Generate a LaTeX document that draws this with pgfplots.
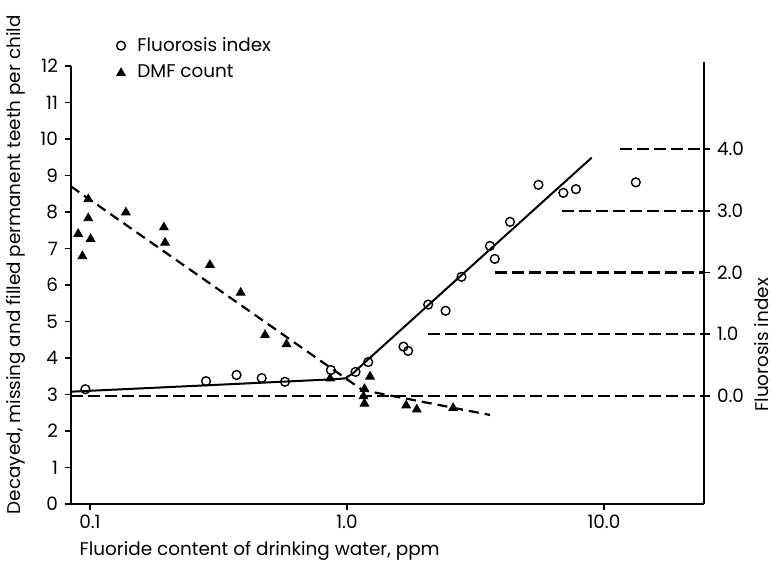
\documentclass[border=0pt]{standalone}
\usepackage{pgfplots}
\pgfplotsset{compat=1.18}
\usepackage{fontspec}
\setmainfont{Poppins}

\begin{document}
\begin{tikzpicture}
\useasboundingbox (0,0) rectangle (386.5pt,281.5pt);

% ---------- left axis: DMF count ----------
\begin{axis}[
  scale only axis,
  width=316.5pt, height=219pt,
  at={(35.5pt,29.5pt)}, anchor=south west,
  xmode=log, xmin=0.0844, xmax=24.5,
  ymin=0, ymax=12,
  axis x line*=bottom, axis y line*=left,
  tick align=outside,
  major tick length=3pt,
  xminorticks=false, yminorticks=false,
  tick style={black, line width=0.9pt},
  axis line style={line width=1pt},
  tick label style={font=\fontsize{9.2}{10}\selectfont},
  label style={font=\fontsize{9.2}{10}\selectfont, inner sep=0pt},
  clip=false,
  xtick={0.1,1,10}, xticklabels={0.1,1.0,10.0},
  xticklabel style={yshift=-1.5pt, inner sep=1pt},
  ytick={0,1,2,3,4,5,6,7,8,9,10,11,12},
  yticklabels={0,1,2,3,4,5,6,7,8,9,10,11,12},
  xlabel={Fluoride content of drinking water, ppm},
  xlabel style={at={(axis description cs:0.013,-0.108)}, anchor=west},
  ylabel={Decayed, missing and filled permanent teeth per child},
  ylabel style={at={(axis description cs:-0.087,0.546)}, anchor=center},
  legend cell align=left,
  legend style={draw=none, fill=none, font=\fontsize{9.2}{10}\selectfont,
    column sep=4pt, row sep=1.5pt,
    at={(axis description cs:0.062,1.085)}, anchor=north west},
]
\addlegendimage{only marks, mark=o, mark size=2.2pt, mark options={line width=0.7pt}}
\addlegendentry{Fluorosis index}

% DMF data
\addplot[only marks, mark=triangle*, mark size=2.5pt, black] coordinates {
  (0.0985,8.35) (0.090,7.40) (0.0985,7.83) (0.1006,7.26) (0.0935,6.79)
  (0.138,7.99) (0.194,7.58) (0.196,7.16) (0.293,6.55) (0.386,5.79)
  (0.48,4.63) (0.582,4.38) (0.86,3.44)
  (1.23,3.49) (1.17,3.15) (1.16,2.95) (1.17,2.75)
  (1.70,2.70) (1.87,2.59) (2.59,2.63)
};
\addlegendentry{DMF count}

% DMF trend (dashed, broken)
\addplot[black, line width=1.1pt, dash pattern=on 5pt off 3pt, forget plot] coordinates {
  (0.0844,8.70) (1.15,3.12) (3.60,2.44)
};
\end{axis}

% ---------- right axis: Fluorosis index ----------
\begin{axis}[
  scale only axis,
  width=316.5pt, height=221pt,
  at={(35.5pt,29.5pt)}, anchor=south west,
  xmode=log, xmin=0.0844, xmax=24.5,
  ymin=-1.749, ymax=5.409,
  axis y line*=right, axis x line=none,
  tick align=outside,
  major tick length=3pt,
  xminorticks=false, yminorticks=false,
  tick style={black, line width=0.9pt},
  axis line style={line width=1pt},
  tick label style={font=\fontsize{9.2}{10}\selectfont},
  label style={font=\fontsize{9.2}{10}\selectfont, inner sep=0pt},
  clip=false,
  xtick=\empty,
  ytick={0,1,2,3,4}, yticklabels={0.0,1.0,2.0,3.0,4.0},
  ylabel={Fluorosis index},
  ylabel style={at={(axis description cs:1.0915,0.36)}, anchor=center},
]
% reference levels
\addplot[black, line width=1.1pt, dash pattern=on 6pt off 2.5pt] coordinates {(0.0844,0) (24.5,0)};
\addplot[black, line width=1.1pt, dash pattern=on 6pt off 2.5pt] coordinates {(2.07,1) (24.5,1)};
\addplot[black, line width=1.1pt, dash pattern=on 6pt off 2.5pt] coordinates {(3.77,2) (24.5,2)};
\addplot[black, line width=1.1pt, dash pattern=on 6pt off 2.5pt] coordinates {(6.87,3) (24.5,3)};
\addplot[black, line width=1.1pt, dash pattern=on 6pt off 2.5pt] coordinates {(11.5,4) (24.5,4)};

% fluorosis trend
\addplot[black, line width=1pt, smooth, tension=0.3] coordinates {
  (0.0844,0.07) (0.87,0.27) (1.0,0.31) (1.08,0.40) (1.2,0.58) (8.96,3.86)
};

% fluorosis data
\addplot[only marks, mark=o, mark size=2.2pt, black, mark options={line width=0.7pt, fill=white}] coordinates {
  (0.096,0.11) (0.283,0.24) (0.372,0.34) (0.466,0.29) (0.574,0.23)
  (0.866,0.42) (1.08,0.39) (1.21,0.55) (1.66,0.80) (1.73,0.73)
  (2.07,1.48) (2.42,1.38) (2.79,1.93) (3.60,2.43) (3.76,2.22)
  (4.31,2.82) (5.56,3.42) (6.95,3.29) (7.78,3.35) (13.3,3.46)
};
\end{axis}
\end{tikzpicture}
\end{document}
